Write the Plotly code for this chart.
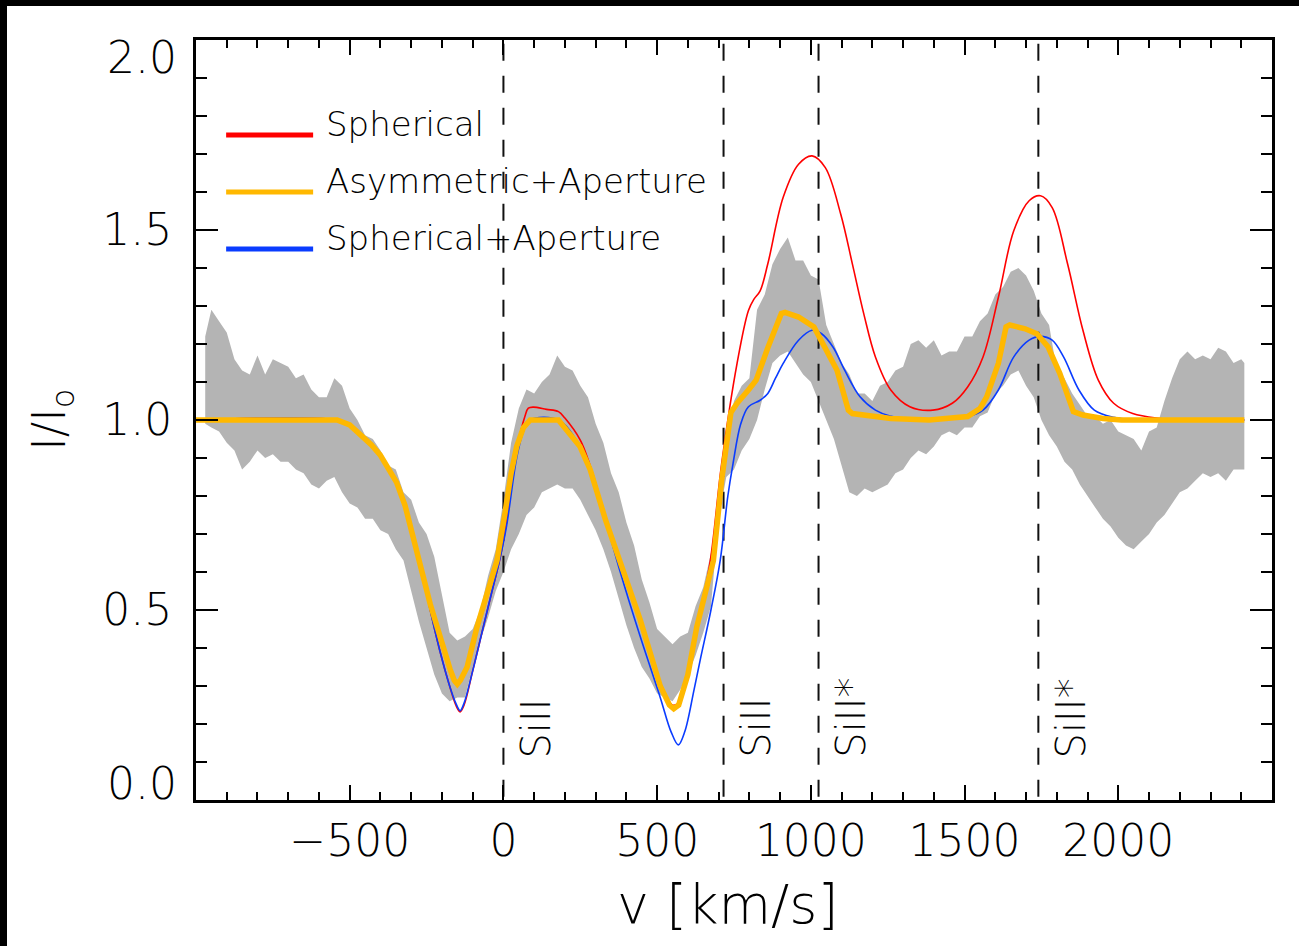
import plotly.graph_objects as go

# ---------------- data ----------------
band_v = [-970, -950, -925, -900, -875, -850, -825, -800, -775, -750, -725, -700, -675, -650, -625, -600,
          -575, -550, -525, -500, -475, -450, -425, -400, -375, -350, -325, -300, -275, -250, -225, -200,
          -175, -150, -125, -100, -75, -50, -25, 0, 25, 50, 75, 100, 125, 150, 175, 200, 225, 250, 275,
          300, 325, 350, 375, 400, 425, 450, 475, 500, 525, 550, 575, 600, 625, 650, 675, 700, 725, 750,
          775, 800, 825, 850, 875, 900, 925, 950, 975, 1000, 1025, 1050, 1075, 1100, 1125, 1150, 1175,
          1200, 1225, 1250, 1275, 1300, 1325, 1350, 1375, 1400, 1425, 1450, 1475, 1500, 1525, 1550, 1575,
          1600, 1625, 1650, 1675, 1700, 1725, 1750, 1775, 1800, 1825, 1850, 1875, 1900, 1925, 1950, 1975,
          2000, 2025, 2050, 2075, 2100, 2125, 2150, 2175, 2200, 2225, 2250, 2275, 2300, 2325, 2350, 2375,
          2400, 2410]
band_upper = [1.22, 1.29, 1.26, 1.23, 1.16, 1.13, 1.12, 1.17, 1.12, 1.16, 1.15, 1.14, 1.11, 1.12, 1.08, 1.06,
              1.06, 1.11, 1.09, 1.03, 1.00, 0.96, 0.95, 0.92, 0.88, 0.87, 0.81, 0.79, 0.73, 0.70, 0.64, 0.54,
              0.44, 0.42, 0.43, 0.45, 0.50, 0.59, 0.66, 0.79, 0.94, 1.03, 1.08, 1.07, 1.10, 1.12, 1.17, 1.14,
              1.13, 1.09, 1.06, 0.99, 0.94, 0.86, 0.81, 0.73, 0.67, 0.58, 0.52, 0.45, 0.43, 0.41, 0.43, 0.44,
              0.51, 0.56, 0.65, 0.76, 0.96, 1.05, 1.09, 1.11, 1.29, 1.33, 1.41, 1.45, 1.48, 1.42, 1.42, 1.38,
              1.37, 1.25, 1.20, 1.15, 1.12, 1.07, 1.07, 1.05, 1.09, 1.10, 1.13, 1.14, 1.20, 1.21, 1.19, 1.21,
              1.17, 1.18, 1.18, 1.22, 1.22, 1.26, 1.28, 1.33, 1.35, 1.39, 1.40, 1.38, 1.34, 1.28, 1.25, 1.13,
              1.11, 1.07, 1.04, 1.01, 1.01, 0.99, 1.00, 0.97, 0.96, 0.95, 0.92, 0.97, 0.98, 1.05, 1.11, 1.16,
              1.18, 1.16, 1.17, 1.16, 1.19, 1.18, 1.15, 1.16, 1.15]
band_lower = [0.99, 0.98, 0.97, 0.94, 0.92, 0.87, 0.89, 0.92, 0.90, 0.91, 0.89, 0.89, 0.87, 0.86, 0.83, 0.82,
              0.84, 0.85, 0.81, 0.78, 0.77, 0.74, 0.74, 0.71, 0.70, 0.66, 0.63, 0.55, 0.47, 0.40, 0.33, 0.28,
              0.26, 0.27, 0.27, 0.35, 0.42, 0.48, 0.55, 0.60, 0.66, 0.70, 0.75, 0.77, 0.81, 0.82, 0.83, 0.82,
              0.82, 0.79, 0.75, 0.71, 0.66, 0.60, 0.53, 0.46, 0.40, 0.35, 0.32, 0.28, 0.27, 0.26, 0.29, 0.33,
              0.38, 0.44, 0.51, 0.74, 0.85, 0.87, 0.92, 0.95, 1.00, 1.08, 1.15, 1.17, 1.18, 1.15, 1.12, 1.10,
              1.05, 1.00, 0.95, 0.88, 0.81, 0.80, 0.82, 0.81, 0.82, 0.83, 0.86, 0.87, 0.90, 0.92, 0.91, 0.93,
              0.96, 0.97, 0.96, 0.98, 0.98, 1.01, 1.02, 1.07, 1.09, 1.12, 1.13, 1.09, 1.06, 1.00, 0.96, 0.93,
              0.89, 0.87, 0.83, 0.80, 0.77, 0.74, 0.72, 0.69, 0.67, 0.66, 0.68, 0.70, 0.73, 0.75, 0.78, 0.81,
              0.82, 0.84, 0.86, 0.85, 0.86, 0.84, 0.87, 0.87, 0.87]

asym_v = [-1000, -541, -500, -466, -430, -401, -375, -347, -320, -300, -280, -260, -238, -206, -174, -160,
          -150, -140, -118, -86, -53, -21, 5, 25, 43, 65, 87, 179, 249, 282, 331, 380, 445, 510, 540, 554,
          570, 600, 629, 683, 710, 740, 760, 797, 822, 860, 904, 916, 960, 1010, 1047, 1085, 1122, 1135,
          1260, 1385, 1510, 1550, 1572, 1610, 1635, 1647, 1697, 1735, 1772, 1810, 1854, 1885, 1950, 2010,
          2410]
asym_i = [1.0, 1.0, 0.987, 0.962, 0.935, 0.908, 0.875, 0.835, 0.775, 0.715, 0.65, 0.585, 0.515, 0.425, 0.345,
          0.315, 0.305, 0.315, 0.35, 0.455, 0.545, 0.63, 0.755, 0.86, 0.93, 0.98, 1.0, 1.0, 0.93, 0.87, 0.74,
          0.63, 0.474, 0.30, 0.25, 0.24, 0.25, 0.33, 0.456, 0.63, 0.843, 1.02, 1.044, 1.079, 1.105, 1.19,
          1.280, 1.283, 1.271, 1.245, 1.192, 1.131, 1.026, 1.017, 1.004, 1.0, 1.009, 1.03, 1.061, 1.149,
          1.245, 1.250, 1.240, 1.227, 1.192, 1.122, 1.022, 1.013, 1.004, 1.0, 1.0]

sphap_v = [-1000, -541, -500, -466, -401, -347, -310, -285, -260, -238, -206, -175, -155, -141, -128, -100,
           -70, -40, -10, 10, 43, 65, 87, 179, 249, 282, 331, 380, 445, 510, 545, 569, 590, 620, 640, 675,
           705, 730, 747, 772, 797, 835, 860, 885, 910, 960, 1004, 1035, 1072, 1110, 1160, 1210, 1260, 1385,
           1510, 1560, 1610, 1660, 1710, 1747, 1785, 1822, 1872, 1922, 1985, 2060, 2410]
sphap_i = [1.0, 1.0, 0.987, 0.96, 0.905, 0.83, 0.74, 0.665, 0.585, 0.50, 0.39, 0.30, 0.255, 0.235, 0.255, 0.34,
           0.44, 0.54, 0.64, 0.72, 0.90, 0.97, 1.0, 1.0, 0.93, 0.87, 0.74, 0.60, 0.43, 0.27, 0.18, 0.145, 0.18,
           0.29, 0.368, 0.50, 0.63, 0.80, 0.886, 0.99, 1.035, 1.052, 1.07, 1.11, 1.149, 1.21, 1.236, 1.227,
           1.192, 1.131, 1.061, 1.026, 1.01, 1.002, 1.009, 1.026, 1.079, 1.166, 1.21, 1.22, 1.21, 1.166, 1.079,
           1.026, 1.007, 1.0, 1.0]

sph_v = [-1000, -541, -500, -466, -401, -347, -310, -285, -260, -238, -206, -175, -155, -141, -128, -100,
         -70, -40, -10, 10, 43, 70, 81, 97, 140, 179, 200, 250, 282, 331, 380, 445, 510, 550, 575, 600, 640,
         673, 710, 760, 797, 815, 835, 860, 910, 960, 1004, 1047, 1097, 1135, 1172, 1210, 1260, 1322, 1397,
         1460, 1510, 1560, 1610, 1660, 1710, 1747, 1785, 1835, 1885, 1935, 1985, 2047, 2135, 2200, 2410]
sph_i = [1.0, 1.0, 0.987, 0.96, 0.905, 0.83, 0.74, 0.665, 0.585, 0.50, 0.39, 0.30, 0.25, 0.232, 0.25, 0.34,
         0.44, 0.54, 0.64, 0.73, 0.92, 1.01, 1.031, 1.034, 1.028, 1.022, 1.005, 0.947, 0.88, 0.75, 0.63,
         0.47, 0.31, 0.25, 0.26, 0.33, 0.49, 0.63, 0.886, 1.149, 1.288, 1.318, 1.34, 1.411, 1.586, 1.673,
         1.695, 1.664, 1.542, 1.411, 1.280, 1.166, 1.079, 1.035, 1.026, 1.044, 1.087, 1.166, 1.323, 1.498,
         1.577, 1.590, 1.559, 1.411, 1.236, 1.105, 1.044, 1.017, 1.004, 1.0, 1.0]

line_v = [0, 716, 1025, 1740]
line_labels = ["SiII", "SiII", "SiII*", "SiII*"]

legend_names = ["Spherical", "Asymmetric+Aperture", "Spherical+Aperture"]
legend_colors = ["#ff0000", "#ffb800", "#0a3cff"]
legend_y = [1.75, 1.60, 1.45]

x_ticks = [-1000, -500, 0, 500, 1000, 1500, 2000, 2500]
x_ticktext = ["", "\u2212500", "0", "500", "1000", "1500", "2000", ""]
y_ticks = [0.0, 0.5, 1.0, 1.5, 2.0]
y_ticktext = ["", "0.5", "1.0", "1.5", ""]

# ---------------- figure ----------------
FONT = "DejaVu Sans"
W = 300
TXT = "#000000"


def fnt(size):
    return dict(family=FONT, size=size, color=TXT, weight=W)


fig = go.Figure()

fig.add_trace(go.Scatter(
    x=band_v + band_v[::-1], y=band_upper + band_lower[::-1],
    fill="toself", fillcolor="#b4b4b4", line=dict(width=0), mode="lines",
    hoverinfo="skip", showlegend=False))

dx, dy = [], []
for v in line_v:
    dx += [v, v, None]
    dy += [1.99, 0.0, None]
fig.add_trace(go.Scatter(x=dx, y=dy, mode="lines",
                         line=dict(color="#111111", width=2, dash="17px,15px"),
                         showlegend=False, hoverinfo="skip"))

fig.add_trace(go.Scatter(x=sph_v, y=sph_i, mode="lines", name=legend_names[0],
                         line=dict(color=legend_colors[0], width=1.6, shape="spline", smoothing=1.0),
                         showlegend=False))
fig.add_trace(go.Scatter(x=sphap_v, y=sphap_i, mode="lines", name=legend_names[2],
                         line=dict(color=legend_colors[2], width=1.6, shape="spline", smoothing=1.0),
                         showlegend=False))
fig.add_trace(go.Scatter(x=asym_v, y=asym_i, mode="lines", name=legend_names[1],
                         line=dict(color=legend_colors[1], width=5.5), showlegend=False))

shapes = []
annotations = []
# manual legend
for name, col, yy in zip(legend_names, legend_colors, legend_y):
    shapes.append(dict(type="line", xref="x", yref="y", x0=-902, x1=-619, y0=yy, y1=yy,
                       line=dict(color=col, width=5)))
    annotations.append(dict(x=-584, y=yy + 0.03, xref="x", yref="y", text=name, showarrow=False,
                            xanchor="left", yanchor="middle", font=fnt(34)))

# line labels
for v, lab in zip(line_v, line_labels):
    annotations.append(dict(x=v, y=0.105, xref="x", yref="y", text=lab, showarrow=False, textangle=-90,
                            xanchor="center", yanchor="bottom", xshift=33, font=fnt(40)))

# end y tick labels (shifted inward as in the original)
annotations.append(dict(x=0, y=2.0, xref="paper", yref="y", text="2.0", showarrow=False,
                        xanchor="right", yanchor="middle", xshift=-17, yshift=-17, font=fnt(44)))
annotations.append(dict(x=0, y=0.0, xref="paper", yref="y", text="0.0", showarrow=False,
                        xanchor="right", yanchor="middle", xshift=-17, yshift=17, font=fnt(44)))

# axis titles
annotations.append(dict(x=0.4944, y=-0.138, xref="paper", yref="paper", text="v [km/s]", showarrow=False,
                        xanchor="center", yanchor="middle", font=fnt(54)))
annotations.append(dict(x=-0.134, y=0.5, xref="paper", yref="paper", text="I/I<sub>o</sub>",
                        showarrow=False, textangle=-90, xanchor="center", yanchor="middle", font=fnt(46)))

# black frame strips of the original picture
shapes.append(dict(type="rect", xref="paper", yref="paper", x0=-196 / 1076, x1=-189 / 1076,
                   y0=-146 / 760, y1=846 / 760, fillcolor="black", line=dict(width=0), layer="above"))
shapes.append(dict(type="rect", xref="paper", yref="paper", x0=-196 / 1076, x1=1103 / 1076,
                   y0=(800 - 6) / 760, y1=846 / 760, fillcolor="black", line=dict(width=0), layer="above"))

fig.update_layout(
    width=1299, height=946,
    margin=dict(l=196, r=27, t=40, b=146),
    paper_bgcolor="white", plot_bgcolor="white",
    shapes=shapes, annotations=annotations, showlegend=False,
    font=dict(family=FONT, color=TXT, weight=W),
)
fig.update_xaxes(
    range=[-1000, 2500], tickvals=x_ticks, ticktext=x_ticktext,
    showline=True, linewidth=3, linecolor="black", mirror="ticks",
    ticks="inside", ticklen=15, tickwidth=2, tickcolor="black",
    minor=dict(dtick=100, tick0=0, ticks="inside", ticklen=8, tickwidth=2, tickcolor="black"),
    showgrid=False, zeroline=False, tickfont=fnt(44),
    ticklabelstandoff=0,
)
fig.update_yaxes(
    range=[0, 2.0], tickvals=y_ticks, ticktext=y_ticktext,
    showline=True, linewidth=3, linecolor="black", mirror="ticks",
    ticks="inside", ticklen=22, tickwidth=2, tickcolor="black",
    minor=dict(dtick=0.1, tick0=0, ticks="inside", ticklen=11, tickwidth=2, tickcolor="black"),
    showgrid=False, zeroline=False, tickfont=fnt(44),
    ticklabelstandoff=12,
)

fig.write_html("out.html")
